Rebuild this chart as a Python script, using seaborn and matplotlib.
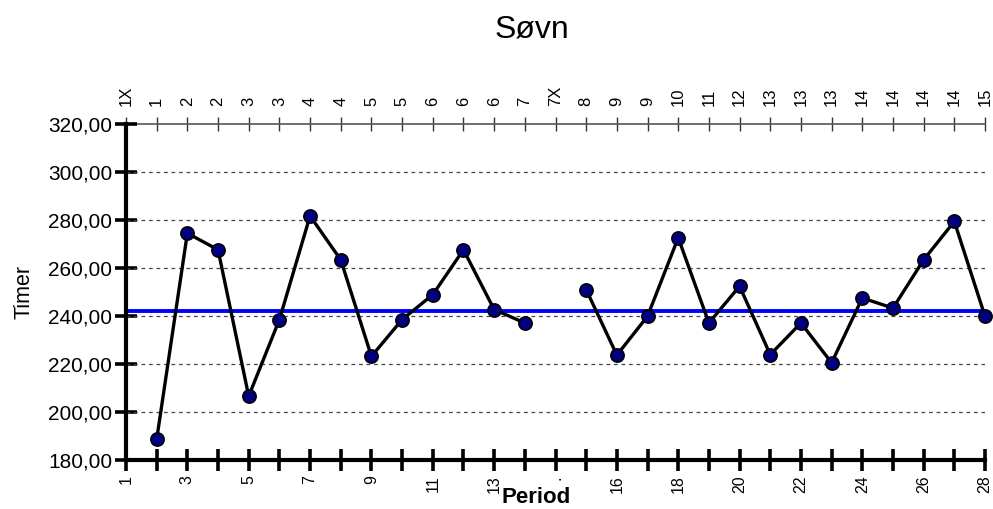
import numpy as np
import pandas as pd
import matplotlib
matplotlib.use("Agg")
import matplotlib.pyplot as plt
import seaborn as sns

# ---- data ----
periods = list(range(1, 14)) + list(range(15, 29))
hours = [188.6, 274.5, 267.6, 206.6, 238.5, 281.7, 263.4, 223.2, 238.5, 248.9,
         267.6, 242.7, 237.1,
         251.0, 223.7, 239.9, 272.6, 237.1, 252.4, 223.9, 237.1, 220.5, 247.5,
         243.3, 263.4, 279.4, 239.9]
segment = [0] * 13 + [1] * 14
mean_line = 242.0

bottom_labels = ["1", "", "3", "", "5", "", "7", "", "9", "", "11", "", "13", "",
                 ".", "", "16", "", "18", "", "20", "", "22", "", "24", "", "26", "", "28"]
top_labels = ["1X", "1", "2", "2", "3", "3", "4", "4", "5", "5", "6", "6", "6", "7",
              "7X", "8", "9", "9", "10", "11", "12", "13", "13", "13", "14", "14",
              "14", "14", "15"]
y_ticks = [180, 200, 220, 240, 260, 280, 300, 320]

df = pd.DataFrame({"Period": periods, "Timer": hours, "seg": segment})

sns.set_theme(style="white")
plt.rcParams["font.family"] = ["Liberation Sans", "DejaVu Sans"]
plt.rcParams.update({"text.color": "black", "axes.labelcolor": "black",
                     "xtick.color": "black", "ytick.color": "black"})

fig = plt.figure(figsize=(9.93, 5.09), dpi=100)
ax = fig.add_axes([126 / 993, 1 - 460 / 509, (985 - 126) / 993, (460 - 124) / 509])

# grid
for yv in y_ticks[1:-1]:
    ax.axhline(yv, color="#444444", lw=0.9, ls=(0, (3, 3)), zorder=1)

ax.axhline(mean_line, color="#0000FF", lw=2.8, zorder=2)

sns.lineplot(data=df, x="Period", y="Timer", units="seg", estimator=None,
             color="black", lw=2.4, marker="o", markersize=9.5,
             markerfacecolor="#000080", markeredgecolor="black", markeredgewidth=1.2,
             ax=ax, zorder=3, clip_on=False)

ax.set_xlim(0, 28)
ax.set_ylim(180, 320)

ax.set_yticks(y_ticks)
ax.set_yticklabels([f"{v:.2f}".replace(".", ",") for v in y_ticks], fontsize=15)
ax.set_xticks(range(29))
ax.set_xticklabels(bottom_labels, rotation=90, fontsize=11.5)

ax.tick_params(axis="x", direction="inout", length=16, width=2.6, color="black", pad=3,
               bottom=True)
ax.tick_params(axis="y", direction="inout", length=16, width=2.6, color="black", pad=2,
               left=True)

for s in ["right", "top"]:
    ax.spines[s].set_visible(False)
for s in ["left", "bottom"]:
    ax.spines[s].set_linewidth(3.0)
    ax.spines[s].set_color("black")

# top axis
sec = ax.secondary_xaxis("top")
sec.set_xticks(range(29))
sec.set_xticklabels(top_labels, rotation=90, fontsize=12)
sec.tick_params(direction="inout", length=10, width=1, color="#333333", pad=8)
sec.spines["top"].set_color("#555555")
sec.spines["top"].set_linewidth(1.2)

ax.set_xlabel("")
ax.set_ylabel("Timer", fontsize=15.5)
ax.yaxis.set_label_coords(-0.106, 0.5)

fig.text(536 / 993, 1 / 509, "Period", fontsize=16, fontweight="bold",
         ha="center", va="bottom")
fig.text(532 / 993, 1 - 30 / 509, "Søvn", fontsize=23, ha="center", va="center")

fig.savefig("out.png", dpi=100, facecolor="white")
